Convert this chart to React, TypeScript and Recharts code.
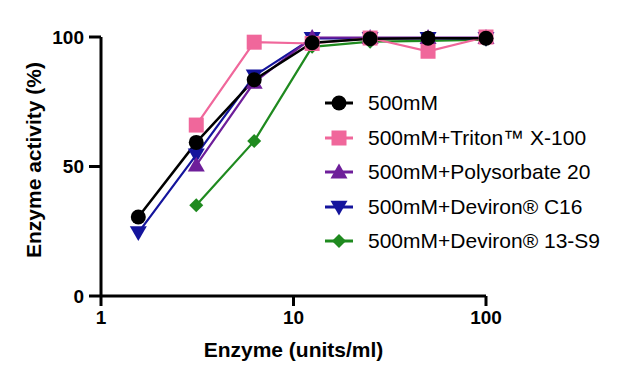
import React from 'react';
import { LineChart, Line, XAxis, YAxis, Label } from 'recharts';

const concentrations = [1.5625, 3.125, 6.25, 12.5, 25, 50, 100];
const base500 = [30.5, 59.3, 83.5, 97.8, 99.3, 99.5, 99.5];
const triton = [null, 66, 98, 97.5, 99.6, 94.5, 100];
const polysorbate = [null, 50.5, 82.5, 99.8, 99.8, 99.8, 99.8];
const devironC16 = [24.5, 54.5, 85, 99.5, 99.5, 99.5, 99.5];
const deviron13 = [null, 35, 59.8, 96.2, 98.2, 98.5, 99];

const xTicks = [1, 10, 100];
const yTicks = [0, 50, 100];

const series = [
  { key: 'deviron13', name: '500mM+Deviron® 13-S9', color: '#1f8a1f', shape: 'diamond', width: 2.2 },
  { key: 'devironC16', name: '500mM+Deviron® C16', color: '#14149c', shape: 'down', width: 2.2 },
  { key: 'polysorbate', name: '500mM+Polysorbate 20', color: '#6e1e9a', shape: 'up', width: 2.2 },
  { key: 'triton', name: '500mM+Triton™ X-100', color: '#f0679b', shape: 'square', width: 2.2 },
  { key: 'base500', name: '500mM', color: '#000000', shape: 'circle', width: 2.5 },
];

const legendOrder = ['base500', 'triton', 'polysorbate', 'devironC16', 'deviron13'];

const data = concentrations.map((x, i) => ({
  x,
  base500: base500[i],
  triton: triton[i],
  polysorbate: polysorbate[i],
  devironC16: devironC16[i],
  deviron13: deviron13[i],
}));

const FONT = '"Liberation Sans", Arial, sans-serif';

function Marker({ cx, cy, shape, color, s = 1 }: any) {
  if (cx == null || cy == null) return null;
  if (shape === 'circle') return <circle cx={cx} cy={cy} r={7.5 * s} fill={color} />;
  if (shape === 'square') {
    const h = 7.5 * s;
    return <rect x={cx - h} y={cy - h} width={2 * h} height={2 * h} fill={color} />;
  }
  if (shape === 'up') {
    const h = 8.5 * s;
    return <path d={`M${cx},${cy - h} L${cx + h},${cy + h * 0.75} L${cx - h},${cy + h * 0.75} Z`} fill={color} />;
  }
  if (shape === 'down') {
    const h = 8.5 * s;
    return <path d={`M${cx},${cy + h} L${cx + h},${cy - h * 0.75} L${cx - h},${cy - h * 0.75} Z`} fill={color} />;
  }
  const h = 7 * s;
  return <path d={`M${cx},${cy - h} L${cx + h},${cy} L${cx},${cy + h} L${cx - h},${cy} Z`} fill={color} />;
}

function LegendBox() {
  return (
    <div style={{ position: 'absolute', left: 322, top: 86, fontFamily: FONT, fontSize: 21 }}>
      {legendOrder.map((k) => {
        const s = series.find((d) => d.key === k)!;
        return (
          <div key={k} style={{ display: 'flex', alignItems: 'center', height: 34.5 }}>
            <svg width={34} height={22} style={{ marginRight: 12 }}>
              <line x1={3} y1={11} x2={31} y2={11} stroke={s.color} strokeWidth={3} />
              <Marker cx={17} cy={11} shape={s.shape} color={s.color} s={1} />
            </svg>
            <span style={{ color: '#000' }}>{s.name}</span>
          </div>
        );
      })}
    </div>
  );
}

function YTitle() {
  return (
    <text
      x={33}
      y={160}
      transform="rotate(-90, 33, 160)"
      textAnchor="middle"
      dominantBaseline="central"
      style={{ fill: '#000', fontSize: 21, fontWeight: 'bold', fontFamily: FONT }}
    >
      Enzyme activity (%)
    </text>
  );
}

export default function App() {
  return (
    <div style={{ position: 'absolute', left: 0, top: 0, width: 620, height: 386, background: '#fff' }}>
      <LineChart width={620} height={386} data={data} margin={{ top: 37, right: 134, left: 41, bottom: 40 }}>
        <XAxis
          dataKey="x"
          type="number"
          scale="log"
          domain={[1, 100]}
          ticks={xTicks}
          height={50}
          stroke="#000"
          strokeWidth={3}
          tickSize={10}
          tickMargin={5}
          tick={{ fill: '#000', fontSize: 19, fontWeight: 'bold', fontFamily: FONT }}
        >
          <Label
            value="Enzyme (units/ml)"
            position="bottom"
            offset={-4}
            style={{ fill: '#000', fontSize: 21, fontWeight: 'bold', fontFamily: FONT }}
          />
        </XAxis>
        <YAxis
          type="number"
          domain={[0, 100]}
          ticks={yTicks}
          width={60}
          stroke="#000"
          strokeWidth={3}
          tickSize={12}
          tickMargin={5}
          tick={{ fill: '#000', fontSize: 19, fontWeight: 'bold', fontFamily: FONT }}
        >
          <Label content={() => <YTitle />} />
        </YAxis>
        {series.map((s) => (
          <Line
            key={s.key}
            dataKey={s.key}
            name={s.name}
            stroke={s.color}
            strokeWidth={s.width}
            isAnimationActive={false}
            connectNulls={false}
            dot={(p: any) => <Marker key={`${s.key}-${p.index}`} cx={p.cx} cy={p.cy} shape={s.shape} color={s.color} />}
            activeDot={false}
          />
        ))}
      </LineChart>
      <LegendBox />
    </div>
  );
}
